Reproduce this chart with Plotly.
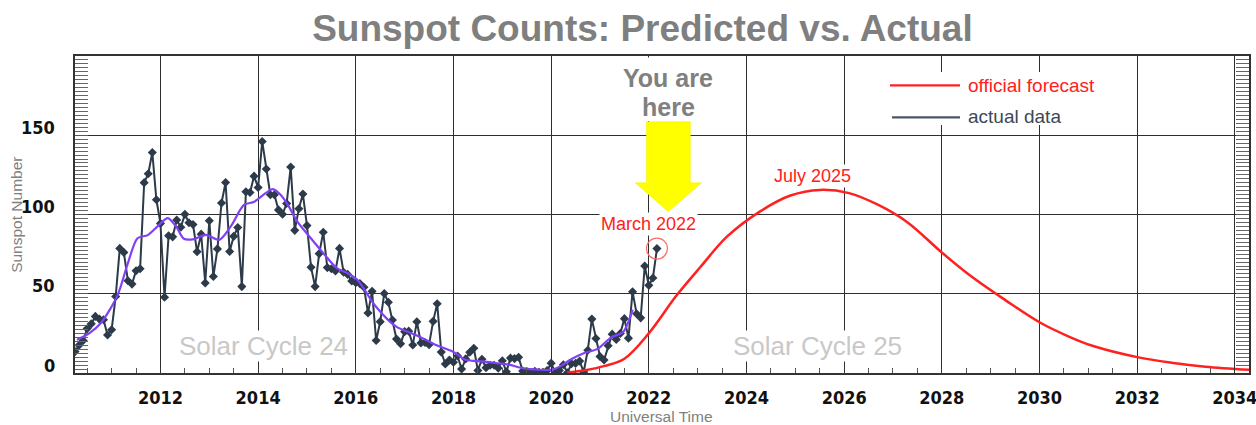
import plotly.graph_objects as go

# ---------------- data ----------------
start_year = 2010
start_month = 4  # April 2010
actual_values = [
    13.5, 17.5, 20.5, 28.0, 31.0, 35.7, 34.0, 33.6, 24.0,                      # 2010 Apr-Dec
    27.3, 48.3, 78.6, 76.1, 58.2, 56.1, 64.5, 65.8, 120.1, 125.7, 139.1, 109.3,  # 2011
    94.4, 47.8, 86.6, 85.9, 96.5, 92.0, 100.1, 94.8, 93.7, 76.5, 87.6, 56.8,     # 2012
    96.1, 60.9, 78.3, 107.3, 120.2, 76.7, 86.2, 91.8, 54.5, 114.4, 113.9, 124.2, # 2013
    117.0, 146.1, 128.7, 112.5, 112.5, 102.9, 100.2, 106.9, 130.0, 90.0, 103.6, 112.9,  # 2014
    93.0, 66.7, 54.5, 75.3, 88.8, 66.5, 65.8, 64.4, 78.6, 63.6, 62.2, 58.0,      # 2015
    57.0, 56.4, 54.1, 37.9, 51.5, 20.5, 32.4, 50.2, 44.6, 33.4, 21.4, 18.5,      # 2016
    26.1, 26.4, 17.7, 32.3, 18.9, 19.2, 17.8, 32.6, 43.7, 13.2, 5.7, 8.2,        # 2017
    6.8, 10.7, 2.5, 8.9, 13.1, 15.6, 1.6, 8.7, 3.3, 4.9, 4.9, 3.1,               # 2018
    7.7, 0.8, 9.4, 9.1, 9.9, 1.2, 0.9, 0.5, 1.1, 0.4, 0.5, 1.5,                  # 2019
    6.2, 0.2, 1.5, 5.2, 0.2, 5.8, 6.1, 7.5, 0.6, 14.4, 34.0, 21.8,               # 2020
    10.4, 8.2, 17.2, 24.5, 21.2, 25.0, 34.3, 22.0, 51.3, 37.4, 34.8, 67.5,       # 2021
    55.3, 59.9, 78.5,                                                            # 2022 Jan-Mar
]

smooth_years = [2010.29, 2010.54, 2010.78, 2011.12, 2011.33, 2011.53, 2011.74, 2011.94,
                2012.15, 2012.32, 2012.48, 2012.69, 2012.93, 2013.2, 2013.44, 2013.71,
                2013.92, 2014.16, 2014.3, 2014.46, 2014.63, 2014.8, 2015.08, 2015.42,
                2015.62, 2015.83, 2016.03, 2016.41, 2016.82, 2017.23, 2017.63, 2017.98,
                2018.25, 2018.59, 2018.86, 2019.13, 2019.41, 2019.74, 2020.02, 2020.2,
                2020.4, 2020.68, 2020.95, 2021.23, 2021.47, 2021.67]
smooth_values = [21, 25, 31.5, 49, 69, 85, 87, 92.5,
                 97.7, 92.5, 84.7, 84.5, 87.2, 84, 92.5, 106,
                 108, 113.6, 116, 112.4, 105, 95.6, 85, 72.5,
                 66, 63, 58.8, 42, 29.4, 24, 17.8, 13.6,
                 8.4, 7.3, 6.3, 5.3, 3.1, 2.1, 2.1, 4.5,
                 8.5, 12.6, 15.2, 22.5, 25.7, 40]

forecast_years = [2020.33, 2020.7, 2021.1, 2021.5, 2022.0, 2022.57, 2023.06, 2023.6,
                  2024.28, 2024.9, 2025.5, 2026.1, 2026.7, 2027.3, 2028.0, 2028.6,
                  2029.3, 2030.0, 2030.6, 2031.1, 2032.0, 2032.7, 2033.4, 2034.3]
forecast_values = [0.3, 1.8, 4.5, 9, 25, 49, 67, 86,
                   102, 112, 115.5, 113.5, 106, 95, 76, 61,
                   46, 32, 23, 17, 10, 6.5, 4, 2]

x_ticks = list(range(2012, 2035, 2))
y_ticks = [0, 50, 100, 150]

# time axis for the monthly values (first day of each month, decimal years)
actual_years = [start_year + (start_month - 1 + i) / 12 for i in range(len(actual_values))]

# ---------------- styles ----------------
RED = "#ff2020"
SLATE = "#2c3a4a"
PURPLE = "#8040f5"
GRID = "#2e2e2e"
TICKFONT = dict(family="Liberation Sans Narrow, DejaVu Sans Condensed, Arial Narrow, sans-serif",
                size=18, color="#111111", weight="bold")
SANS = "Liberation Sans, Arial, sans-serif"

fig = go.Figure()

fig.add_trace(go.Scatter(
    x=actual_years, y=actual_values, mode="lines+markers",
    line=dict(color=SLATE, width=2),
    marker=dict(symbol="diamond", size=7, color=SLATE),
    showlegend=False))

fig.add_trace(go.Scatter(
    x=smooth_years, y=smooth_values, mode="lines",
    line=dict(color=PURPLE, width=2.2, shape="spline", smoothing=0.8),
    showlegend=False))

fig.add_trace(go.Scatter(
    x=forecast_years, y=forecast_values, mode="lines",
    line=dict(color=RED, width=2.5, shape="spline", smoothing=1.0),
    showlegend=False))

# highlight circle around the latest monthly value
fig.add_trace(go.Scatter(
    x=[actual_years[-1]], y=[actual_values[-1]], mode="markers",
    marker=dict(symbol="circle-open", size=21, color="#ff6a6a", line=dict(width=1.2)),
    showlegend=False))

# ---------------- decorations ----------------
PL, PR, PT, PB = 75, 1249, 56, 373.3


def px_x(px):  # pixel x -> paper fraction
    return (px - PL) / (PR - PL)


def px_y(py):  # pixel y -> paper fraction
    return (PB - py) / (PB - PT)


shapes = []
# white boxes behind the legend and the "You are here" label
shapes.append(dict(type="rect", xref="paper", yref="paper",
                   x0=px_x(880), x1=px_x(1100), y0=px_y(125), y1=px_y(72),
                   fillcolor="white", line=dict(width=0), layer="above"))
shapes.append(dict(type="rect", xref="paper", yref="paper",
                   x0=px_x(618), x1=px_x(720), y0=px_y(121), y1=px_y(57.5),
                   fillcolor="white", line=dict(width=0), layer="above"))
# legend line samples
shapes.append(dict(type="line", xref="paper", yref="paper",
                   x0=px_x(890), x1=px_x(960), y0=px_y(85.5), y1=px_y(85.5),
                   line=dict(color=RED, width=2.2), layer="above"))
shapes.append(dict(type="line", xref="paper", yref="paper",
                   x0=px_x(892), x1=px_x(960), y0=px_y(117.5), y1=px_y(117.5),
                   line=dict(color="#4a5664", width=2.2), layer="above"))

# yellow arrow (anchored at the "now" position)
tip_x, tip_y = 2022.40, 101.7
shaft_half, head_half = 0.45, 0.68
head_h, shaft_top = 18.3, 158.5
arrow_path = (f"M {tip_x - shaft_half},{shaft_top} L {tip_x + shaft_half},{shaft_top} "
              f"L {tip_x + shaft_half},{tip_y + head_h} L {tip_x + head_half},{tip_y + head_h} "
              f"L {tip_x},{tip_y} L {tip_x - head_half},{tip_y + head_h} "
              f"L {tip_x - shaft_half},{tip_y + head_h} Z")
shapes.append(dict(type="path", xref="x", yref="y", path=arrow_path,
                   fillcolor="#ffff00", line=dict(color="#eeee00", width=0.5), layer="above"))

annotations = []
# y tick labels sit a little above their grid lines
for v in y_ticks:
    annotations.append(dict(text=str(v), x=px_x(57), y=v, xref="paper", yref="y",
                            xanchor="right", yanchor="middle", yshift=8, showarrow=False,
                            font=TICKFONT))


def label(text, x, y, size, color, xref="paper", yref="paper", bold=False, **kw):
    f = dict(family=SANS, size=size, color=color)
    if bold:
        f["weight"] = "bold"
    d = dict(text=text, x=x, y=y, xref=xref, yref=yref, showarrow=False,
             xanchor=kw.pop("xanchor", "center"), yanchor="middle", font=f)
    d.update(kw)
    annotations.append(d)


label("You are", px_x(668), px_y(78), 25, "#808080", bold=True)
label("here", px_x(668), px_y(107), 25, "#808080", bold=True)
label("March 2022", 2022.0, 94, 18, RED, xref="x", yref="y", bgcolor="white", borderpad=1)
label("July 2025", 2025.36, 124, 18, RED, xref="x", yref="y", bgcolor="white", borderpad=1)
label("Solar Cycle 24", 2014.12, 17.2, 26, "#c8c8c8", xref="x", yref="y", bgcolor="white", borderpad=0)
label("Solar Cycle 25", 2025.46, 17.2, 26, "#c8c8c8", xref="x", yref="y", bgcolor="white", borderpad=0)
label("official forecast", px_x(966), px_y(85.5), 19, RED, xanchor="left")
label("actual data", px_x(966), px_y(117), 19, "#3c4856", xanchor="left")
label("Sunspot Number", px_x(17), px_y(215), 15.5, "#808080", textangle=-90)
label("Universal Time", px_x(661.5), px_y(417), 15.5, "#808080")

fig.update_layout(
    width=1256, height=425,
    margin=dict(l=PL, r=1256 - PR, t=PT, b=425 - PB, autoexpand=False),
    paper_bgcolor="white", plot_bgcolor="white",
    title=dict(text="Sunspot Counts: Predicted vs. Actual", x=0.5115, xanchor="center",
               y=1 - 28 / 425, yanchor="middle",
               font=dict(family=SANS, size=37, color="#7f7f7f", weight="bold")),
    shapes=shapes, annotations=annotations,
    showlegend=False,
)

fig.update_xaxes(
    range=[2010.25, 2034.29], tickvals=x_ticks, tickformat="d",
    showgrid=True, gridcolor=GRID, gridwidth=1.2,
    ticks="inside", ticklen=6, tickcolor="#333", tickwidth=1,
    minor=dict(dtick=0.5, tick0=2012, ticks="inside", ticklen=5, tickcolor="#555", showgrid=False),
    showline=True, linecolor="#333", linewidth=2, mirror=True,
    tickfont=TICKFONT, ticklabelstandoff=7, ticklabeloverflow="allow",
    zeroline=False, automargin=False,
)
fig.update_yaxes(
    range=[0, 200], tickvals=y_ticks, showticklabels=False,
    showgrid=True, gridcolor=GRID, gridwidth=1.2,
    ticks="inside", ticklen=13, tickcolor="#555", tickwidth=1.3,
    minor=dict(dtick=2.5, tick0=0, ticks="inside", ticklen=13, tickcolor="#666", tickwidth=1.3, showgrid=False),
    showline=True, linecolor="#333", linewidth=2, mirror="ticks",
    zeroline=False, automargin=False,
)

fig.write_html("out.html", config={"displayModeBar": False},
               post_script="document.body.style.margin='0';document.body.style.overflow='hidden';")
